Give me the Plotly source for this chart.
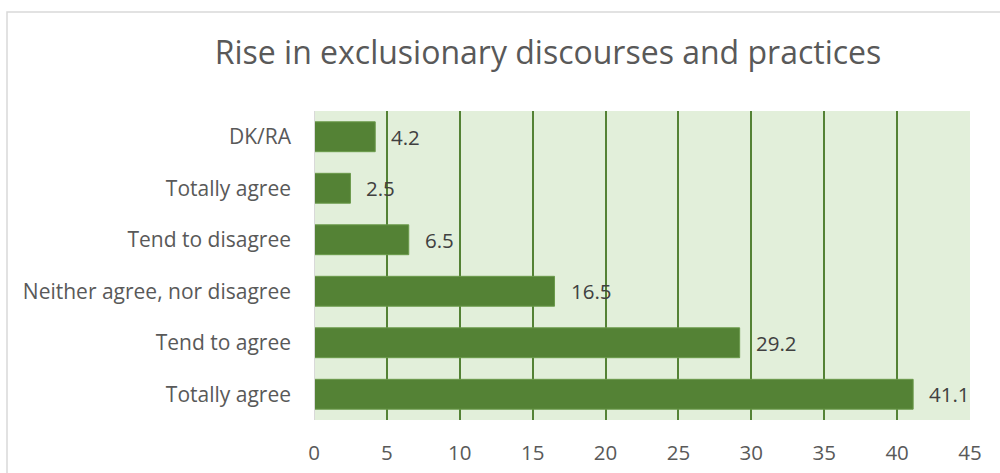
import plotly.graph_objects as go

categories = ["Totally agree", "Tend to agree", "Neither agree, nor disagree",
              "Tend to disagree", "Totally agree", "DK/RA"]
values = [41.1, 29.2, 16.5, 6.5, 2.5, 4.2]
x_ticks = [0, 5, 10, 15, 20, 25, 30, 35, 40, 45]
title = "Rise in exclusionary discourses and practices"

ypos = list(range(len(categories)))
FONT = "Open Sans"

fig = go.Figure()
fig.add_trace(go.Bar(
    x=values, y=ypos, orientation="h",
    marker=dict(color="#548235", line=dict(color="#6b9a4b", width=1)),
    hoverinfo="x+y",
))
for v, y in zip(values, ypos):
    fig.add_annotation(x=v, y=y, xref="x", yref="y", text=f"{v}",
                       showarrow=False, xanchor="left", xshift=14,
                       font=dict(family=FONT, size=20.5, color="#404040"))

fig.update_layout(
    width=1000, height=473,
    margin=dict(l=314, r=30, t=111, b=53, autoexpand=False),
    paper_bgcolor="white", plot_bgcolor="#E2EFDA",
    bargap=0.42, showlegend=False,
    title=dict(text=title, x=0.548, xanchor="center", y=0.889, yanchor="middle",
               font=dict(family=FONT, size=32, color="#595959")),
    xaxis=dict(range=[0, 45], tickvals=x_ticks, showgrid=True,
               gridcolor="#548235", gridwidth=2, zeroline=False,
               showline=False, ticks="", ticklabelstandoff=18, automargin=False,
               tickfont=dict(family=FONT, size=20.5, color="#595959")),
    yaxis=dict(tickvals=ypos, ticktext=categories, range=[-0.5, 5.5],
               showgrid=False, zeroline=False, showline=False, ticks="",
               ticklabelstandoff=22, automargin=False,
               tickfont=dict(family=FONT, size=21, color="#595959")),
    shapes=[
        dict(type="line", xref="x", yref="paper", x0=0, x1=0, y0=0, y1=1,
             line=dict(color="#D9D9D9", width=2)),
        dict(type="rect", xref="paper", yref="paper",
             x0=(7 - 314) / 656, x1=(1010 - 314) / 656,
             y0=(420 - 490) / 309, y1=(420 - 12) / 309,
             line=dict(color="#D9D9D9", width=1.5), fillcolor="rgba(0,0,0,0)"),
    ],
)
fig.write_html("out.html")
